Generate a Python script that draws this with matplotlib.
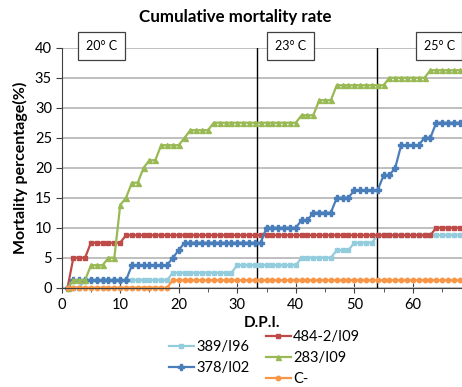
import matplotlib.pyplot as plt
from matplotlib.ticker import MultipleLocator

plt.rcParams["font.family"] = ["Lato", "DejaVu Sans"]

# days post infection, one reading per day
DPI = list(range(1, 69))

# cumulative mortality (%) per strain
MORT_389_I96 = [
    0, 0, 0, 1.25, 1.25, 1.25, 1.25, 1.25, 1.25, 1.25,
    1.25, 1.25, 1.25, 1.25, 1.25, 1.25, 1.25, 1.25, 2.5, 2.5,
    2.5, 2.5, 2.5, 2.5, 2.5, 2.5, 2.5, 2.5, 2.5, 3.75,
    3.75, 3.75, 3.75, 3.75, 3.75, 3.75, 3.75, 3.75, 3.75, 3.75,
    5, 5, 5, 5, 5, 5, 6.25, 6.25, 6.25, 7.5,
    7.5, 7.5, 7.5, 8.75, 8.75, 8.75, 8.75, 8.75, 8.75, 8.75,
    8.75, 8.75, 8.75, 8.75, 8.75, 8.75, 8.75, 8.75,
]
MORT_484_I09 = [
    0, 5, 5, 5, 7.5, 7.5, 7.5, 7.5, 7.5, 7.5,
    8.75, 8.75, 8.75, 8.75, 8.75, 8.75, 8.75, 8.75, 8.75, 8.75,
    8.75, 8.75, 8.75, 8.75, 8.75, 8.75, 8.75, 8.75, 8.75, 8.75,
    8.75, 8.75, 8.75, 8.75, 8.75, 8.75, 8.75, 8.75, 8.75, 8.75,
    8.75, 8.75, 8.75, 8.75, 8.75, 8.75, 8.75, 8.75, 8.75, 8.75,
    8.75, 8.75, 8.75, 8.75, 8.75, 8.75, 8.75, 8.75, 8.75, 8.75,
    8.75, 8.75, 8.75, 10, 10, 10, 10, 10,
]
MORT_378_I02 = [
    0, 1.25, 1.25, 1.25, 1.25, 1.25, 1.25, 1.25, 1.25, 1.25,
    1.25, 3.75, 3.75, 3.75, 3.75, 3.75, 3.75, 3.75, 5, 6.25,
    7.5, 7.5, 7.5, 7.5, 7.5, 7.5, 7.5, 7.5, 7.5, 7.5,
    7.5, 7.5, 7.5, 7.5, 10, 10, 10, 10, 10, 10,
    11.25, 11.25, 12.5, 12.5, 12.5, 12.5, 15, 15, 15, 16.25,
    16.25, 16.25, 16.25, 16.25, 18.75, 18.75, 20, 23.75, 23.75, 23.75,
    23.75, 25, 25, 27.5, 27.5, 27.5, 27.5, 27.5,
]
MORT_283_I09 = [
    0, 1.25, 1.25, 1.25, 3.75, 3.75, 3.75, 5, 5, 13.75,
    15, 17.5, 17.5, 20, 21.25, 21.25, 23.75, 23.75, 23.75, 23.75,
    25, 26.25, 26.25, 26.25, 26.25, 27.5, 27.5, 27.5, 27.5, 27.5,
    27.5, 27.5, 27.5, 27.5, 27.5, 27.5, 27.5, 27.5, 27.5, 27.5,
    28.75, 28.75, 28.75, 31.25, 31.25, 31.25, 33.75, 33.75, 33.75, 33.75,
    33.75, 33.75, 33.75, 33.75, 33.75, 35, 35, 35, 35, 35,
    35, 35, 36.25, 36.25, 36.25, 36.25, 36.25, 36.25,
]
MORT_CNEG = [
    0, 0, 0, 0, 0, 0, 0, 0, 0, 0,
    0, 0, 0, 0, 0, 0, 0, 0, 1.25, 1.25,
    1.25, 1.25, 1.25, 1.25, 1.25, 1.25, 1.25, 1.25, 1.25, 1.25,
    1.25, 1.25, 1.25, 1.25, 1.25, 1.25, 1.25, 1.25, 1.25, 1.25,
    1.25, 1.25, 1.25, 1.25, 1.25, 1.25, 1.25, 1.25, 1.25, 1.25,
    1.25, 1.25, 1.25, 1.25, 1.25, 1.25, 1.25, 1.25, 1.25, 1.25,
    1.25, 1.25, 1.25, 1.25, 1.25, 1.25, 1.25, 1.25,
]

# temperature shifts (D.P.I.) and their labels
TEMP_CHANGES = [33.3, 53.8]
TEMP_LABELS = ["20° C", "23° C", "25° C"]
TEMP_LABEL_X = [6.8, 39.1, 64.5]


def main() -> None:
    fig = plt.figure(figsize=(4.62, 3.87), dpi=100)
    ax = fig.add_axes([0.1335, 0.2566, 0.8665, 0.6201])

    series = [
        ("389/I96", MORT_389_I96, "#93CDDD", "s", 3.2),
        ("484-2/I09", MORT_484_I09, "#BE4B48", "s", 3.2),
        ("378/I02", MORT_378_I02, "#4A7EBB", "P", 4.0),
        ("283/I09", MORT_283_I09, "#98B954", "^", 3.6),
        ("C-", MORT_CNEG, "#F79646", "o", 3.2),
    ]
    handles = {}
    for name, values, color, marker, msize in series:
        (line,) = ax.plot(
            DPI, values, color=color, lw=1.6, marker=marker, ms=msize,
            mew=1.0, mec=color, mfc=color, label=name, clip_on=False,
        )
        handles[name] = line

    for x in TEMP_CHANGES:
        ax.axvline(x, color="black", lw=1.0, zorder=1)
    for label, x in zip(TEMP_LABELS, TEMP_LABEL_X):
        ax.text(
            x, 40.3, label, ha="center", va="center", fontsize=9,
            bbox=dict(boxstyle="square,pad=0.62", fc="white", ec="#404040", lw=0.9),
            zorder=5, clip_on=False,
        )

    ax.set_xlim(0, 68.4)
    ax.set_ylim(0, 40)
    ax.xaxis.set_major_locator(MultipleLocator(10))
    ax.xaxis.set_minor_locator(MultipleLocator(5))
    ax.yaxis.set_major_locator(MultipleLocator(5))
    ax.grid(axis="y", color="#BFBFBF", lw=1.4)
    ax.set_axisbelow(True)
    for side in ("top", "right"):
        ax.spines[side].set_visible(False)
    ax.spines["left"].set_color("#404040")
    ax.spines["bottom"].set_color("#404040")
    ax.tick_params(axis="x", which="major", direction="inout", length=7,
                   color="#404040", labelsize=10.5, pad=4)
    ax.tick_params(axis="x", which="minor", direction="out", length=3,
                   color="#404040")
    ax.tick_params(axis="y", direction="out", length=4, color="#404040",
                   labelsize=10.5, pad=3)

    ax.set_xlabel("D.P.I.", fontsize=11, fontweight="bold", labelpad=3)
    ax.set_ylabel("Mortality percentage(%)", fontsize=11.5, fontweight="bold",
                  labelpad=5)
    fig.text(0.51, 0.955, "Cumulative mortality rate", ha="center", va="center",
             fontsize=12.2, fontweight="bold")

    legend_kw = dict(frameon=False, fontsize=10.5, handlelength=1.7,
                     handletextpad=0.15, borderpad=0, borderaxespad=0,
                     labelspacing=0.48, loc="upper left")
    fig.legend([handles["389/I96"], handles["378/I02"]], ["389/I96", "378/I02"],
               bbox_to_anchor=(169 / 462, 1 - 340 / 387), **legend_kw)
    fig.legend([handles["484-2/I09"], handles["283/I09"], handles["C-"]],
               ["484-2/I09", "283/I09", "C-"],
               bbox_to_anchor=(266 / 462, 1 - 330 / 387), **legend_kw)

    fig.savefig("out.png", dpi=100)
    plt.close(fig)


if __name__ == "__main__":
    main()
